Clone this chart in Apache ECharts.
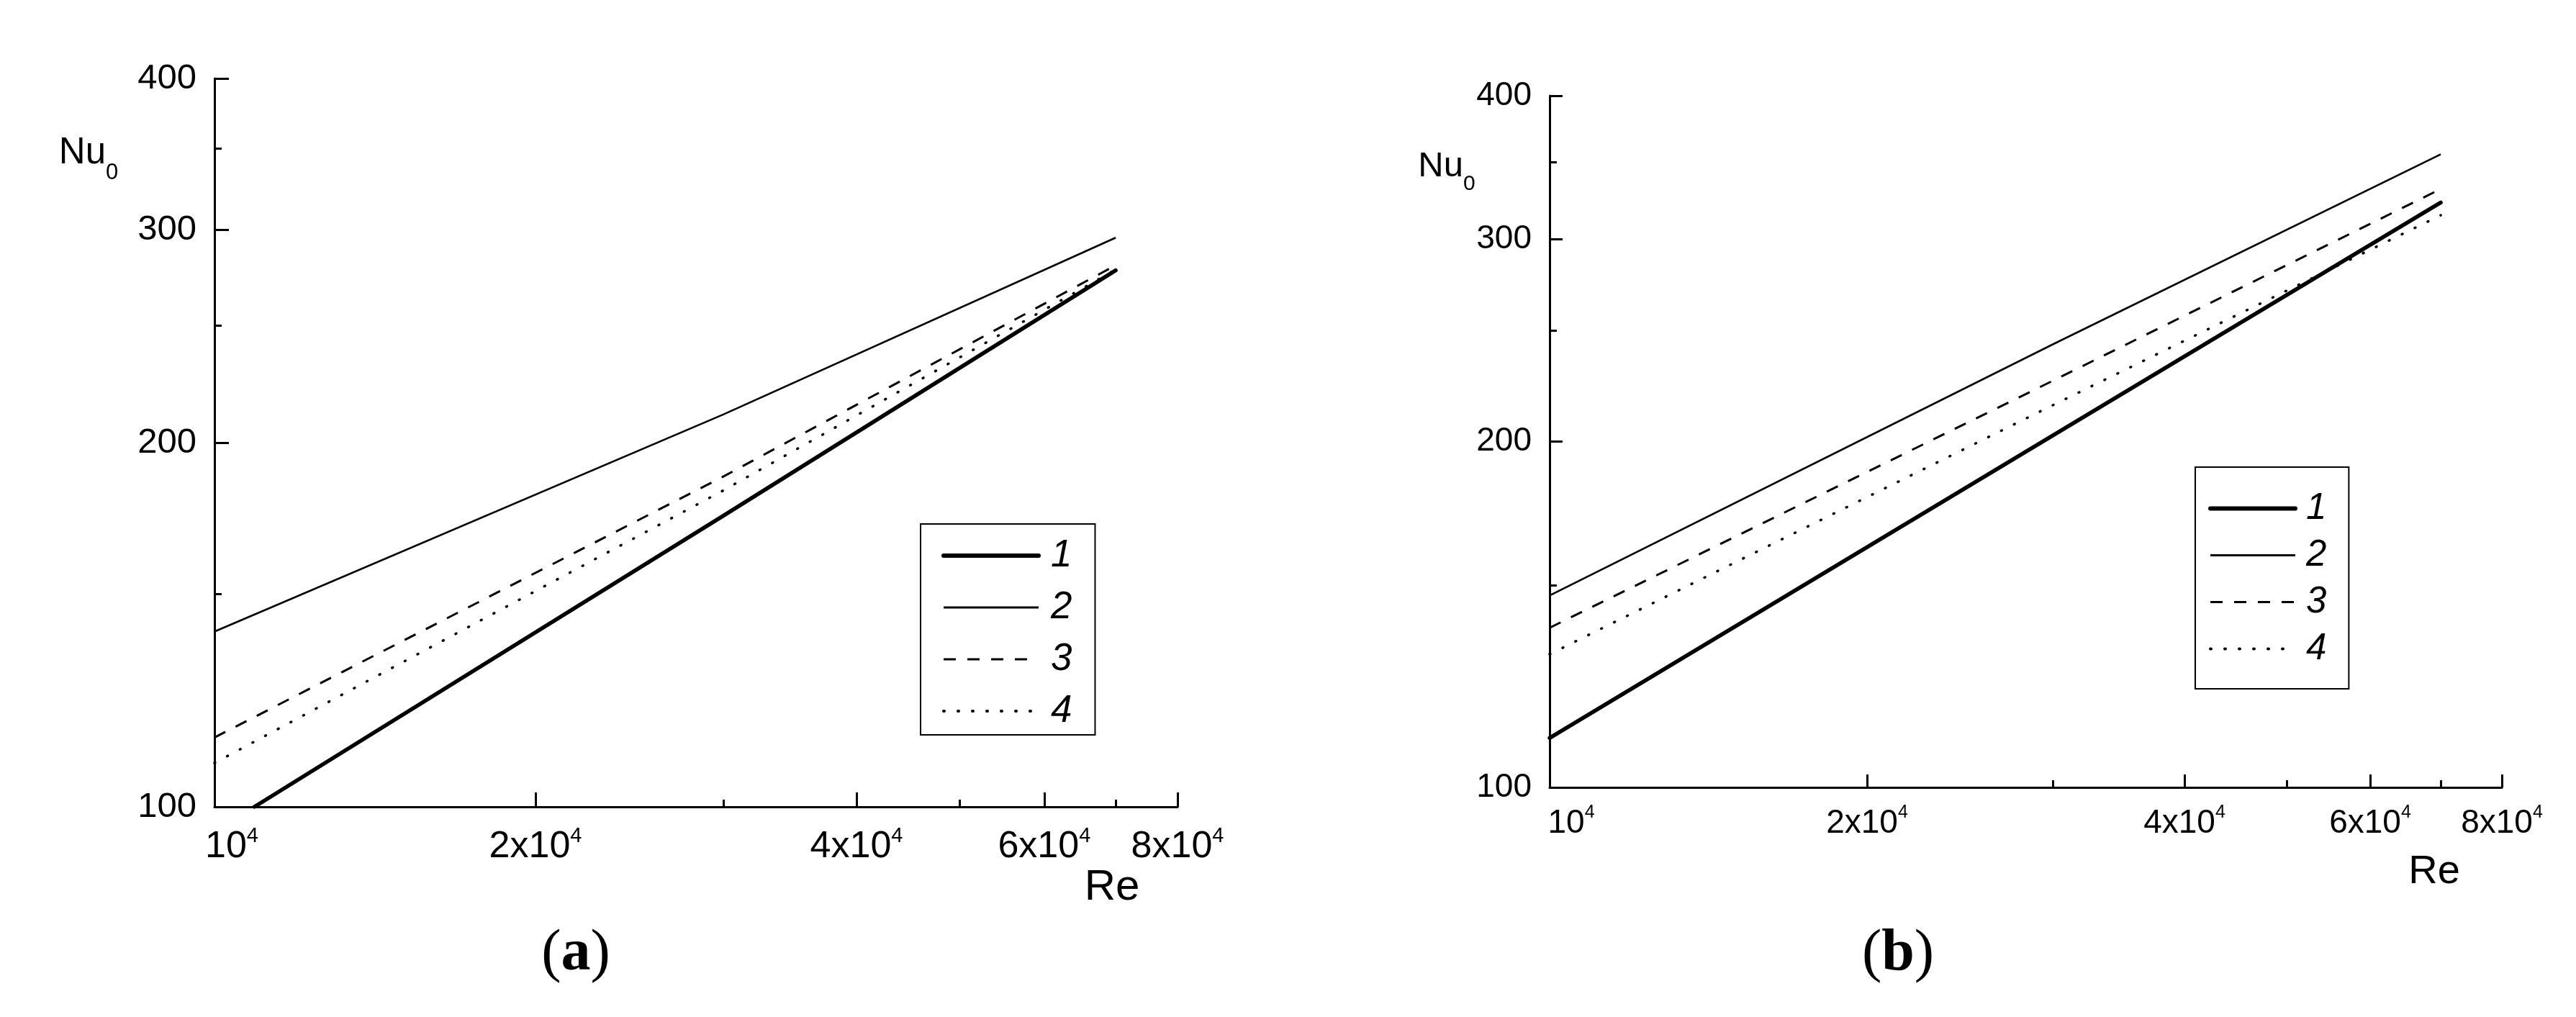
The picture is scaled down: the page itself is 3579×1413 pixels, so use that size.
<!DOCTYPE html>
<html><head><meta charset="utf-8">
<script src="https://cdn.jsdelivr.net/npm/echarts@6/dist/echarts.min.js"></script>
<style>html,body{margin:0;padding:0;background:#fff}#c{width:3579px;height:1413px;background:#fff}</style>
</head><body><div id="c"></div>
<script>
// ---- data ----
const seriesNames = ['1', '2', '3', '4'];
// panel (a)
const a1Re = [10900, 30000, 70000], a1Nu = [100, 174, 277.6];
const a2Re = [10000, 30000, 70000], a2Nu = [139.6, 211, 295.4];
const a3Re = [10000, 30000, 70000], a3Nu = [114.1, 187.5, 280.3];
const a4Re = [10000, 30000, 70000], a4Nu = [108.7, 182.6, 278];
// panel (b)
const b1Re = [10000, 30000, 70000], b1Nu = [110.4, 202.4, 322.9];
const b2Re = [10000, 30000, 70000], b2Nu = [146.9, 243, 355.7];
const b3Re = [10000, 30000, 70000], b3Nu = [137.7, 225.9, 331.8];
const b4Re = [10000, 30000, 70000], b4Nu = [130.6, 215.1, 314.8];
// axes
const xMin = 10000, xMax = 80000, yMin = 100, yMax = 400;
const xMajorTicks = [10000, 20000, 40000, 60000, 80000];
const xMinorTicks = [30000, 50000, 70000];
const yMajorTicks = [100, 200, 300, 400];
const yMinorTicks = [150, 250, 350];
const panelLabels = ['a', 'b'];

const pairs = (xs, ys) => xs.map((x, i) => [x, ys[i]]);
const FONT = 'Liberation Sans, Arial, sans-serif';
const SERIF = 'Liberation Serif, Times New Roman, serif';

const lineStyles = [
  { width: 5.5, type: 'solid', cap: 'round', color: '#000' },
  { width: 2.6, type: 'solid', color: '#000' },
  { width: 3, type: [17, 16], color: '#000' },
  { width: 3.5, type: [1, 19], cap: 'round', color: '#000' }
];
const legendWidths = [6, 3, 3, 4];

function xLabelFormatter(v) {
  const r = Math.round(v);
  if (r === 10000) return '{f|10}{s|4}';
  return '{n|' + (r / 10000) + 'x10}{s|4}';
}

function makeAxes(g, cfg) {
  const xs = [
    {
      type: 'log', logBase: 10, gridIndex: g, min: xMin, max: xMax, position: 'bottom',
      axisLine: { show: true, onZero: false, lineStyle: { color: '#000', width: 3 } },
      axisTick: { show: true, inside: true, length: cfg.major, customValues: xMajorTicks, lineStyle: { color: '#000', width: 3 } },
      axisLabel: {
        show: true, customValues: xMajorTicks, margin: cfg.xMargin, color: '#000',
        formatter: xLabelFormatter,
        rich: {
          n: { fontFamily: FONT, fontSize: cfg.xFs, lineHeight: cfg.xLh, color: '#000' },
          f: { fontFamily: FONT, fontSize: cfg.xFs, lineHeight: cfg.xLh, color: '#000', padding: [0, 0, 0, cfg.firstShift] },
          s: { fontFamily: FONT, fontSize: cfg.supFs, lineHeight: cfg.supLh, verticalAlign: 'top', color: '#000' }
        }
      },
      splitLine: { show: false }, minorTick: { show: false }, minorSplitLine: { show: false }
    },
    {
      type: 'log', logBase: 10, gridIndex: g, min: xMin, max: xMax, position: 'bottom',
      axisLine: { show: false, onZero: false },
      axisTick: { show: true, inside: true, length: cfg.minor, customValues: xMinorTicks, lineStyle: { color: '#000', width: 3 } },
      axisLabel: { show: false },
      splitLine: { show: false }
    }
  ];
  const ys = [
    {
      type: 'log', logBase: 10, gridIndex: g, min: yMin, max: yMax, position: 'left',
      axisLine: { show: true, onZero: false, lineStyle: { color: '#000', width: 3 } },
      axisTick: { show: true, inside: true, length: cfg.major, customValues: yMajorTicks, lineStyle: { color: '#000', width: 3 } },
      axisLabel: { show: true, customValues: yMajorTicks, margin: 25, color: '#000', fontFamily: FONT, fontSize: cfg.yFs, formatter: v => String(Math.round(v)) },
      splitLine: { show: false }, minorTick: { show: false }, minorSplitLine: { show: false }
    },
    {
      type: 'log', logBase: 10, gridIndex: g, min: yMin, max: yMax, position: 'left',
      axisLine: { show: false, onZero: false },
      axisTick: { show: true, inside: true, length: cfg.minor, customValues: yMinorTicks, lineStyle: { color: '#000', width: 3 } },
      axisLabel: { show: false },
      splitLine: { show: false }
    }
  ];
  return { xs, ys };
}

const cfgA = { major: 20, minor: 10, xMargin: 26, xFs: 52, xLh: 60, supFs: 29, supLh: 26, firstShift: 48, yFs: 49 };
const cfgB = { major: 18, minor: 10, xMargin: 23, xFs: 46, xLh: 54, supFs: 25, supLh: 22, firstShift: 60, yFs: 46 };
const axA = makeAxes(0, cfgA), axB = makeAxes(1, cfgB);

const dataA = [pairs(a1Re, a1Nu), pairs(a2Re, a2Nu), pairs(a3Re, a3Nu), pairs(a4Re, a4Nu)];
const dataB = [pairs(b1Re, b1Nu), pairs(b2Re, b2Nu), pairs(b3Re, b3Nu), pairs(b4Re, b4Nu)];

const series = [];
dataA.forEach((d, i) => series.push({
  type: 'line', name: seriesNames[i], xAxisIndex: 0, yAxisIndex: 0, data: d,
  showSymbol: false, symbol: 'none', clip: true, lineStyle: lineStyles[i],
  itemStyle: { color: '#000' }, silent: true
}));
dataB.forEach((d, i) => series.push({
  type: 'line', name: seriesNames[i], xAxisIndex: 2, yAxisIndex: 2, data: d,
  showSymbol: false, symbol: 'none', clip: true, lineStyle: lineStyles[i],
  itemStyle: { color: '#000' }, silent: true
}));

function legendData() {
  return seriesNames.map((n, i) => ({ name: n, itemStyle: { opacity: 0 }, lineStyle: { width: legendWidths[i] } }));
}

const legendText = { fontFamily: FONT, fontSize: 53, fontStyle: 'italic', color: '#000' };

const option = {
  backgroundColor: '#fff',
  animation: false,
  tooltip: { show: false },
  grid: [
    { left: 298, top: 109, width: 1338, height: 1012, containLabel: false, outerBoundsMode: 'none' },
    { left: 2153, top: 133, width: 1323, height: 961, containLabel: false, outerBoundsMode: 'none' }
  ],
  xAxis: [...axA.xs, ...axB.xs],
  yAxis: [...axA.ys, ...axB.ys],
  legend: [
    {
      orient: 'vertical', left: 1279, top: 728, selectedMode: false,
      data: legendData(), itemWidth: 132, itemHeight: 14, itemGap: 12,
      padding: [14, 32, 3, 29], borderColor: '#000', borderWidth: 2, backgroundColor: '#fff',
      itemStyle: { opacity: 0 },
      textStyle: Object.assign({}, legendText, { lineHeight: 60, padding: [0, 0, 0, 12] })
    },
    {
      orient: 'vertical', left: 3050, top: 649, selectedMode: false,
      data: legendData(), itemWidth: 118, itemHeight: 14, itemGap: 12,
      padding: [31, 31, 29, 18], borderColor: '#000', borderWidth: 2, backgroundColor: '#fff',
      itemStyle: { opacity: 0 },
      textStyle: Object.assign({}, legendText, { fontSize: 51, lineHeight: 53, padding: [0, 0, 0, 10] })
    }
  ],
  graphic: [
    { type: 'text', x: 147, y: 213, silent: true, style: { text: 'Nu', fontFamily: FONT, fontSize: 51, fill: '#000', align: 'right', verticalAlign: 'middle' } },
    { type: 'text', x: 147, y: 240, silent: true, style: { text: '0', fontFamily: FONT, fontSize: 31, fill: '#000', align: 'left', verticalAlign: 'middle' } },
    { type: 'text', x: 2033, y: 231, silent: true, style: { text: 'Nu', fontFamily: FONT, fontSize: 49, fill: '#000', align: 'right', verticalAlign: 'middle' } },
    { type: 'text', x: 2033, y: 256, silent: true, style: { text: '0', fontFamily: FONT, fontSize: 30, fill: '#000', align: 'left', verticalAlign: 'middle' } },
    { type: 'text', x: 1545, y: 1233, silent: true, style: { text: 'Re', fontFamily: FONT, fontSize: 60, fill: '#000', align: 'center', verticalAlign: 'middle' } },
    { type: 'text', x: 3382, y: 1212, silent: true, style: { text: 'Re', fontFamily: FONT, fontSize: 56, fill: '#000', align: 'center', verticalAlign: 'middle' } },
    { type: 'text', x: 800, y: 1326, silent: true, style: { text: '{p|(}{b|' + panelLabels[0] + '}{p|)}', align: 'center', verticalAlign: 'middle',
        rich: { p: { fontFamily: SERIF, fontSize: 82, fill: '#000' }, b: { fontFamily: SERIF, fontSize: 82, fontWeight: 'bold', fill: '#000' } } } },
    { type: 'text', x: 2637, y: 1326, silent: true, style: { text: '{p|(}{b|' + panelLabels[1] + '}{p|)}', align: 'center', verticalAlign: 'middle',
        rich: { p: { fontFamily: SERIF, fontSize: 82, fill: '#000' }, b: { fontFamily: SERIF, fontSize: 82, fontWeight: 'bold', fill: '#000' } } } }
  ],
  series: series
};

const chart = echarts.init(document.getElementById('c'), null, { renderer: 'canvas', width: 3579, height: 1413 });
chart.setOption(option);
</script>
</body></html>
